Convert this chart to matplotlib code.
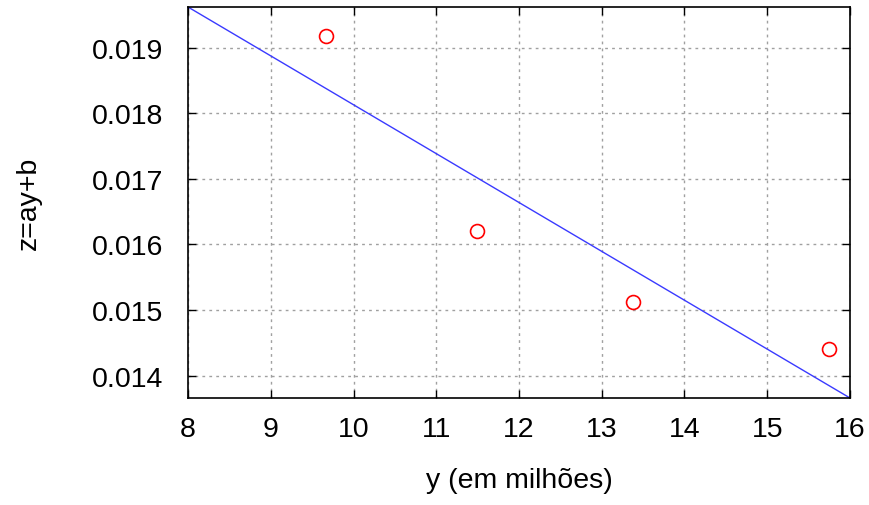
import matplotlib.pyplot as plt

plt.rcParams['font.family'] = ['Liberation Sans', 'DejaVu Sans']

# observed points
y_obs = [9.67, 11.49, 13.38, 15.75]
z_obs = [0.01918, 0.01620, 0.01512, 0.01440]

# fitted line z = a*y + b (end points)
y_fit = [8, 16]
z_fit = [0.01962, 0.01366]

x_ticks = [8, 9, 10, 11, 12, 13, 14, 15, 16]
z_ticks = [0.014, 0.015, 0.016, 0.017, 0.018, 0.019]

fig = plt.figure(figsize=(8.7, 5.06), dpi=100)
ax = fig.add_axes([188 / 870, 107 / 506, 662 / 870, 391 / 506])

ax.plot(y_fit, z_fit, color='#3a3aff', lw=1.0)
ax.plot(y_obs, z_obs, 'o', mfc='none', mec='red', mew=1.2, ms=10)

ax.set_xlim(8, 16)
ax.set_ylim(z_fit[1], z_fit[0])
ax.set_xticks(x_ticks)
ax.set_yticks(z_ticks)
ax.set_yticklabels(['%.3f' % v for v in z_ticks])

ax.grid(True, color='#a0a0a0', linestyle=(0, (2, 3)), lw=1.0)
ax.tick_params(direction='in', top=True, right=True, length=6, width=1,
               labelsize=20.5, colors='black')
ax.tick_params(axis='x', pad=13)
ax.tick_params(axis='y', pad=18)
for s in ax.spines.values():
    s.set_linewidth(1.2)

ax.set_xlabel('y (em milhões)', fontsize=20.5, labelpad=18)
ax.set_ylabel('z=ay+b', fontsize=20.5, labelpad=36)

fig.savefig('out.png', dpi=100)
